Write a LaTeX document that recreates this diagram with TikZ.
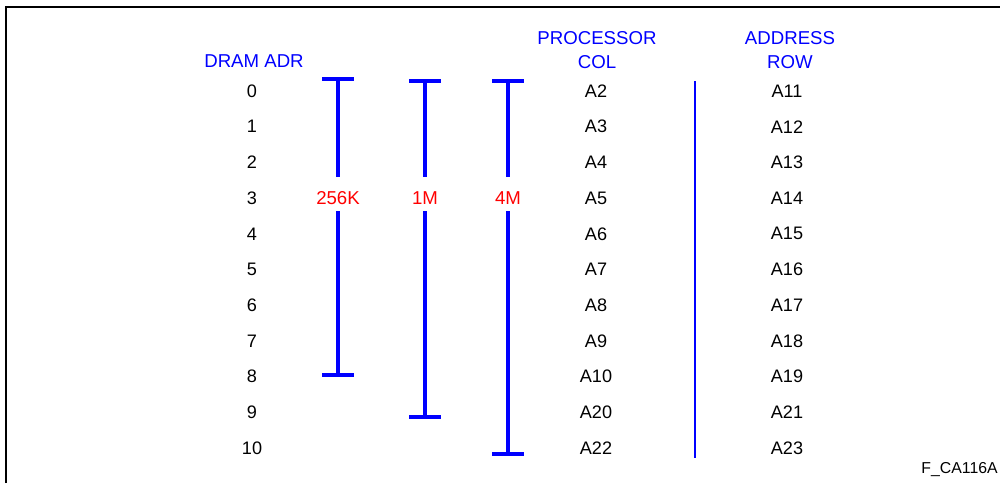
\documentclass[tikz,border=0pt]{standalone}
\usepackage{fontspec}
\setmainfont{Liberation Sans}
\usepackage{tikz}
\usetikzlibrary{positioning,calc}

\tikzset{
    colhead/.style={text=blue, font=\fontsize{10.6}{12}\selectfont, inner sep=1pt},
    cell/.style={font=\fontsize{10.3}{12}\selectfont, inner sep=1pt},
    sizebar/.style={draw=blue, line width=1.8pt},
    sizelbl/.style={text=red, font=\fontsize{10.6}{12}\selectfont, inner sep=1pt},
    divider/.style={draw=blue, line width=1.5pt}
}

\begin{document}
\begin{tikzpicture}
    \useasboundingbox (0,0) rectangle (20,9.66);

    % Frame (top and left edges)
    \coordinate (frameTL) at (0.12,9.52);
    \coordinate (frameTR) at (20,9.52);
    \coordinate (frameBL) at (0.12,0);
    \draw[line width=1.1pt] (frameBL) -- (frameTL) -- (frameTR);

    % Column headings
    \node[colhead] (hdram) at (5.08,8.44) {DRAM ADR};
    \node[colhead] (hproc) at (11.94,8.90) {PROCESSOR};
    \node[colhead] (hcol) at (11.94,8.42) {COL};
    \node[colhead] (haddr) at (15.80,8.90) {ADDRESS};
    \node[colhead] (hrow) at (15.80,8.42) {ROW};

    % Table rows
    \foreach \c/\r [count=\i from 0] in {A2/A11,A3/A12,A4/A13,A5/A14,A6/A15,A7/A16,A8/A17,A9/A18,A10/A19,A20/A21,A22/A23} {
        \node[cell] (dram\i) at (5.04,{7.84-0.714*\i}) {\i};
        \node[cell] (col\i) at (11.92,{7.84-0.714*\i}) {\c};
        \node[cell] (row\i) at (15.74,{7.84-0.714*\i}) {\r};
    }

    % DRAM size bars
    \foreach \n/\x/\top/\bot/\t in {k256/6.76/8.08/2.16/256K, m1/8.50/8.04/1.32/1M, m4/10.16/8.04/0.58/4M} {
        \coordinate (\n top) at (\x,\top);
        \coordinate (\n bot) at (\x,\bot);
        \node[sizelbl] (\n) at (\x,5.70) {\t};
        \draw[sizebar] (\n top) -- ([yshift=0.42cm]\n.center);
        \draw[sizebar] ([yshift=-0.26cm]\n.center) -- (\n bot);
        \draw[sizebar] ([xshift=-0.32cm]\n top) -- ([xshift=0.32cm]\n top);
        \draw[sizebar] ([xshift=-0.32cm]\n bot) -- ([xshift=0.32cm]\n bot);
    }

    % Divider between COL and ROW
    \coordinate (divtop) at (13.90,8.04);
    \coordinate (divbot) at (13.90,0.50);
    \draw[divider] (divtop) -- (divbot);

    % Figure tag
    \node[font=\fontsize{9}{11}\selectfont, anchor=east, inner sep=0pt] (tag) at (19.96,0.26) {F\_CA116A};
\end{tikzpicture}
\end{document}
